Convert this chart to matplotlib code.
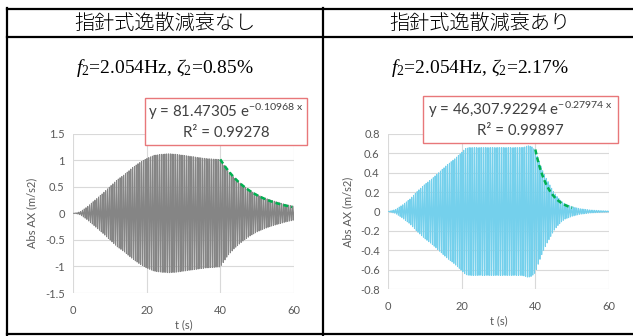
import numpy as np
import matplotlib.pyplot as plt
from matplotlib.lines import Line2D
from matplotlib.patches import Rectangle

W, H = 633, 336

plt.rcParams['mathtext.fontset'] = 'custom'
plt.rcParams['mathtext.rm'] = 'Liberation Serif'
plt.rcParams['mathtext.it'] = 'Liberation Serif:italic'

# column headings and parameters
titles = ["指針式逸散減衰なし", "指針式逸散減衰あり"]
f2 = [2.054, 2.054]          # Hz
zeta2 = ["0.85", "2.17"]     # %

# exponential fit of the free decay: y = A e^(b x)
fit_A = [81.47305, 46307.92294]
fit_b = [-0.10968, -0.27974]
fit_A_text = ["81.47305", "46,307.92294"]
fit_r2 = ["0.99278", "0.99897"]
fit_t0 = [40, 40]
fit_t1 = [59.5, 50]

# amplitude envelope of the response (m/s2)
env_t_a = [0, 1, 2, 4, 6, 8, 10, 12, 14, 16, 18, 20, 22, 24, 26, 28, 30,
           32, 34, 36, 38, 40, 42, 44, 46, 48, 50, 52, 54, 56, 58, 60]
env_a_a = [0, 0.01, 0.03, 0.13, 0.25, 0.37, 0.50, 0.63, 0.73, 0.85, 0.95,
           1.03, 1.09, 1.11, 1.12, 1.11, 1.09, 1.07, 1.05, 1.03, 1.02, 1.01,
           0.80, 0.65, 0.53, 0.43, 0.35, 0.29, 0.24, 0.20, 0.16, 0.13]
env_t_b = [0, 2, 4, 6, 8, 10, 12, 14, 16, 18, 20, 21, 22, 26, 30, 34, 36,
           37, 38, 39, 40, 41, 42, 43, 44, 45, 46, 47, 48, 50, 52, 55, 60]
env_a_b = [0, 0.02, 0.07, 0.13, 0.21, 0.28, 0.34, 0.41, 0.48, 0.54, 0.61,
           0.65, 0.66, 0.66, 0.66, 0.66, 0.66, 0.665, 0.68, 0.67, 0.63, 0.52,
           0.42, 0.34, 0.27, 0.20, 0.15, 0.11, 0.08, 0.05, 0.03, 0.015, 0.005]

ylims = [(-1.5, 1.5), (-0.8, 0.8)]
ysteps = [0.5, 0.2]
xticks = [0, 20, 40, 60]
colors = ["#858585", "#74d0ec"]

# pixel layout: axes boxes, fit boxes, label positions
ax_box = [(73, 133.5, 294, 293), (388, 134, 609, 289)]
fit_box = [(145, 98, 307, 145), (423, 96, 618, 143)]
col_center = [164.5, 480]
ylab_x = [32, 348]
xtick_y = [310, 307]
xlab_y = [325, 321]


def fx(x):
    return x / W


def fy(y):
    return 1 - y / H


fig = plt.figure(figsize=(W / 100, H / 100), dpi=100)

for i in range(2):
    env_t = [env_t_a, env_t_b][i]
    env_a = [env_a_a, env_a_b][i]
    t = np.arange(0, 60.001, 0.01)
    y = np.interp(t, env_t, env_a) * np.sin(2 * np.pi * f2[i] * t)

    x0, y0, x1, y1 = ax_box[i]
    ax = fig.add_axes([fx(x0), fy(y1), fx(x1 - x0), (y1 - y0) / H])
    ax.plot(t, y, color=colors[i], lw=0.7)
    tf = np.linspace(fit_t0[i], fit_t1[i], 100)
    ax.plot(tf, fit_A[i] * np.exp(fit_b[i] * tf), color="#00b050", lw=1.8,
            dashes=(2, 1.2), zorder=4)

    lo, hi = ylims[i]
    ax.set_xlim(0, 60)
    ax.set_ylim(lo, hi)
    yt = np.round(np.arange(lo, hi + 1e-9, ysteps[i]), 2)
    ax.set_yticks(yt)
    ax.set_yticklabels(["%g" % (v + 0.0) for v in yt])
    ax.set_xticks(xticks)
    ax.set_xticklabels([])
    for s in ax.spines.values():
        s.set_visible(False)
    ax.grid(True, color="#d9d9d9", lw=0.8)
    ax.set_axisbelow(True)
    ax.tick_params(length=0, labelsize=8, labelcolor="#595959", pad=6)
    for lab in ax.get_yticklabels():
        lab.set_family("Lato")

    for xv in xticks:
        fig.text(fx(x0 + (x1 - x0) * xv / 60), fy(xtick_y[i]), str(xv),
                 ha="center", va="center", fontsize=8, color="#595959",
                 family="Lato")
    fig.text(fx((x0 + x1) / 2), fy(xlab_y[i]), "t (s)", ha="center",
             va="center", fontsize=8, color="#595959", family="Lato")
    fig.text(fx(ylab_x[i]), fy((y0 + y1) / 2), "Abs AX (m/s2)", rotation=90,
             ha="center", va="center", fontsize=8, color="#595959",
             family="Lato")

    # fit equation box
    bx0, by0, bx1, by1 = fit_box[i]
    fig.add_artist(Rectangle((fx(bx0), fy(by1)), fx(bx1 - bx0), (by1 - by0) / H,
                             transform=fig.transFigure, facecolor="white",
                             edgecolor="#e8777a", lw=1.0, zorder=5))
    bc = (bx0 + bx1) / 2
    fig.text(fx(bc), fy(by0 + 14), r"y = %s e$\mathregular{^{%.5f\ x}}$"
             % (fit_A_text[i], fit_b[i]), ha="center", va="center",
             fontsize=10.8, color="#404040", family="Lato", zorder=6)
    fig.text(fx(bc), fy(by0 + 35), "R² = " + fit_r2[i], ha="center",
             va="center", fontsize=10.8, color="#404040", family="Lato",
             zorder=6)

    # table cells
    fig.text(fx(col_center[i]), fy(23), titles[i], ha="center", va="center",
             fontsize=14.5, fontweight="light",
             family=["Noto Sans CJK JP", "DejaVu Sans"])
    fig.text(fx(col_center[i]), fy(68),
             r"$\mathit{f}_{\mathregular{2}}$=%.3fHz, $\zeta_{\mathregular{2}}$=%s%%"
             % (f2[i], zeta2[i]), ha="center", va="center", fontsize=14,
             family="Liberation Serif")

# table rules
for (xa, ya, xb, yb) in [(7.3, 9, W, 9), (7.3, 36.5, W, 36.5), (7.3, 334, W, 334),
                         (7.3, 8, 7.3, 335), (323, 8, 323, 335)]:
    fig.add_artist(Line2D([fx(xa), fx(xb)], [fy(ya), fy(yb)],
                          transform=fig.transFigure, color="black", lw=1.6))

fig.savefig("out.png", dpi=100)
